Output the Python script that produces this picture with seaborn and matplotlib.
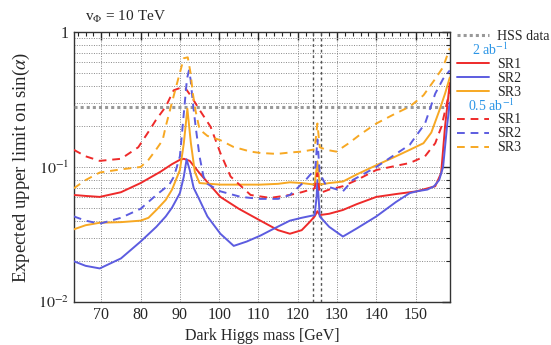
import numpy as np
import pandas as pd
import seaborn as sns
import matplotlib
matplotlib.use("Agg")
import matplotlib.pyplot as plt
from matplotlib.lines import Line2D
from matplotlib.ticker import LogLocator, MultipleLocator, FixedLocator

# ---- data ----
hss_limit = 0.28
higgs_band = [124.0, 126.0]

# 2 ab^-1 (solid)
m_sr1 = [63, 66, 69.6, 75, 80, 85, 88, 90, 91, 92.5, 95, 100.3, 105, 110.5, 115, 118, 121, 123,
         124.3, 125, 125.6, 128, 131.5, 135, 140, 145, 150.3, 155, 156.5, 157.5, 158.7]
v_sr1 = [0.062, 0.061, 0.060, 0.065, 0.076, 0.092, 0.105, 0.113, 0.115, 0.111, 0.090, 0.060, 0.049,
         0.040, 0.034, 0.032, 0.034, 0.039, 0.043, 0.047, 0.044, 0.045, 0.048, 0.053, 0.060, 0.063,
         0.066, 0.072, 0.09, 0.2, 0.42]

m_sr2 = [63, 66, 69.6, 75, 80, 84, 86.4, 88, 90, 91, 91.7, 92.5, 93.5, 95, 97, 100.3, 103.7, 107,
         110.5, 114, 118, 121, 124.3, 124.8, 125, 125.3, 125.6, 128, 131.5, 135, 140, 145, 148.5,
         150.3, 153, 154.7, 156, 157, 158, 158.7]
v_sr2 = [0.020, 0.0185, 0.0177, 0.021, 0.028, 0.036, 0.043, 0.050, 0.064, 0.085, 0.114, 0.095, 0.07,
         0.057, 0.043, 0.032, 0.026, 0.028, 0.031, 0.035, 0.040, 0.042, 0.044, 0.06, 0.08, 0.06,
         0.043, 0.036, 0.0305, 0.035, 0.043, 0.055, 0.064, 0.066, 0.068, 0.072, 0.08, 0.1, 0.2, 0.30]

m_sr3 = [63, 66, 69.6, 75, 80, 82, 84, 86.4, 88, 90, 91, 91.9, 92.8, 93.8, 95, 100.3, 105, 110.5,
         115, 118, 121, 124.3, 125, 125.6, 128, 131.5, 135, 140, 145, 148.5, 152, 154, 156, 157.5,
         158.7]
v_sr3 = [0.0345, 0.037, 0.0386, 0.039, 0.040, 0.042, 0.048, 0.057, 0.068, 0.095, 0.15, 0.27, 0.15,
         0.092, 0.076, 0.074, 0.074, 0.074, 0.075, 0.077, 0.076, 0.074, 0.11, 0.074, 0.076, 0.078,
         0.088, 0.103, 0.12, 0.134, 0.15, 0.18, 0.26, 0.35, 0.46]

# 0.5 ab^-1 (dashed)
m_sr1d = [63, 66, 69.6, 75, 79.4, 82.3, 83.9, 86.4, 88.4, 90, 90.8, 91.5, 93, 95, 97.8, 100.3, 102.9,
          108, 113, 118, 121, 124.3, 125, 125.6, 128, 131.5, 135, 140, 145, 148.5, 152.4, 155,
          156.6, 158.7]
v_sr1d = [0.134, 0.12, 0.111, 0.115, 0.14, 0.188, 0.223, 0.28, 0.37, 0.385, 0.39, 0.38, 0.33, 0.265,
          0.199, 0.127, 0.085, 0.062, 0.059, 0.062, 0.065, 0.0695, 0.09, 0.064, 0.068, 0.072, 0.08,
          0.095, 0.102, 0.107, 0.12, 0.15, 0.2, 0.37]

m_sr2d = [63, 66, 69.6, 75, 80, 84, 87.3, 88.5, 90, 91, 91.8, 92.3, 92.7, 93.3, 94, 95, 96, 97, 100.3,
          105.5, 110.5, 115, 118, 121.7, 123.5, 124.5, 125, 125.6, 127.3, 131.5, 134, 140, 145,
          148.5, 152.4, 155, 157, 158.7]
v_sr2d = [0.043, 0.040, 0.038, 0.042, 0.049, 0.062, 0.074, 0.085, 0.12, 0.25, 0.45, 0.52, 0.45, 0.3,
          0.2, 0.12, 0.085, 0.075, 0.066, 0.060, 0.058, 0.058, 0.062, 0.078, 0.09, 0.1, 0.16, 0.09,
          0.072, 0.066, 0.08, 0.10, 0.125, 0.146, 0.21, 0.35, 0.45, 0.52]

m_sr3d = [63, 66, 69.6, 75, 80, 82, 83.9, 85.6, 86.4, 88.1, 89, 90, 91, 92, 92.7, 93.3, 94, 95, 97,
          100.3, 103.6, 108, 110.5, 114.7, 118, 121, 124.3, 125, 125.6, 127.3, 129.8, 133, 136,
          140, 145, 148.5, 152, 155, 157, 158.7]
v_sr3d = [0.0695, 0.080, 0.091, 0.096, 0.1, 0.113, 0.134, 0.158, 0.2, 0.31, 0.39, 0.5, 0.64, 0.65,
          0.5, 0.35, 0.26, 0.19, 0.17, 0.158, 0.141, 0.13, 0.127, 0.125, 0.128, 0.13, 0.135, 0.21,
          0.14, 0.134, 0.13, 0.15, 0.175, 0.21, 0.25, 0.28, 0.34, 0.45, 0.55, 0.76]

red, blue, orange = "#ee2a2a", "#5c5ce0", "#f7a823"
series = [
    ("SR1", m_sr1, v_sr1, red, "-"),
    ("SR2", m_sr2, v_sr2, blue, "-"),
    ("SR3", m_sr3, v_sr3, orange, "-"),
    ("SR1", m_sr1d, v_sr1d, red, (0, (4, 3))),
    ("SR2", m_sr2d, v_sr2d, blue, (0, (4, 3))),
    ("SR3", m_sr3d, v_sr3d, orange, (0, (4, 3))),
]

sns.set_style("white")
plt.rcParams["font.family"] = ["Liberation Serif", "DejaVu Serif"]
plt.rcParams["mathtext.fontset"] = "stix"

fig = plt.figure(figsize=(5.51, 3.45), dpi=100)
ax = fig.add_axes([0.134, 0.125, 0.683, 0.782])

# grid
ax.set_yscale("log")
ax.set_xlim(63, 158.8)
ax.set_ylim(0.01, 1)
ax.xaxis.set_major_locator(FixedLocator([70, 80, 90, 100, 110, 120, 130, 140, 150]))
ax.xaxis.set_minor_locator(MultipleLocator(2))
ax.yaxis.set_minor_locator(LogLocator(base=10, subs=np.arange(2, 10)))
ax.grid(which="major", axis="both", color="#888888", ls=(0, (1, 1.5)), lw=0.7)
ax.grid(which="minor", axis="y", color="#888888", ls=(0, (1, 1.5)), lw=0.7)

# HSS data
ax.axhline(hss_limit, color="#999999", ls=(0, (1, 1)), lw=2.2, zorder=3)
for mx in higgs_band:
    ax.axvline(mx, color="#555555", ls=(0, (2, 2)), lw=1.0, zorder=3)

for name, m, v, col, ls in series:
    df = pd.DataFrame({"mass": m, "limit": v})
    sns.lineplot(data=df, x="mass", y="limit", ax=ax, color=col, linestyle=ls, lw=1.4,
                 sort=False, zorder=4)

ax.set_xlabel("Dark Higgs mass [GeV]", fontsize=11.5)
ax.set_ylabel(r"Expected upper limit on sin($\alpha$)", fontsize=13.5)
ax.set_yticks([0.01, 0.1, 1])
ax.set_yticklabels([r"$10^{-2}$", r"$10^{-1}$", "1"])
ax.tick_params(which="both", direction="in", top=True, right=True, labelsize=11.5)
ax.tick_params(which="major", length=6, width=1)
ax.tick_params(which="minor", length=3, width=0.8)
for s in ax.spines.values():
    s.set_color("#333333")
    s.set_linewidth(1.0)

ax.text(0.03, 1.025, r"v$_\Phi$ = 10 TeV", transform=ax.transAxes, fontsize=11, va="bottom")

# legend
blank = Line2D([], [], color="none")
handles = [Line2D([], [], color="#999999", ls=(0, (1, 1)), lw=2.2), blank]
labels = ["HSS data", " "]
for name, m, v, col, ls in series[:3]:
    handles.append(Line2D([], [], color=col, ls=ls, lw=1.4))
    labels.append(name)
handles.append(blank)
labels.append(" ")
for name, m, v, col, ls in series[3:]:
    handles.append(Line2D([], [], color=col, ls=ls, lw=1.4))
    labels.append(name)

leg = ax.legend(handles, labels, loc="upper left", bbox_to_anchor=(0.995, 1.04), frameon=False,
                fontsize=10, handlelength=2.3, handletextpad=0.6, labelspacing=0.07,
                borderaxespad=0.2)

fig.canvas.draw()
inv = fig.transFigure.inverted()
texts = leg.get_texts()
for idx, head, shift in [(1, r"2 ab$^{-1}$", 25), (5, r"0.5 ab$^{-1}$", 29)]:
    bb = texts[idx].get_window_extent()
    ref = texts[idx + 1].get_window_extent()
    xr, yc = inv.transform((ref.x0 - shift, (bb.y0 + bb.y1) / 2))
    fig.text(xr, yc, head, color="#2b95e6", fontsize=10, va="center", ha="left")

fig.savefig("out.png", dpi=100)
